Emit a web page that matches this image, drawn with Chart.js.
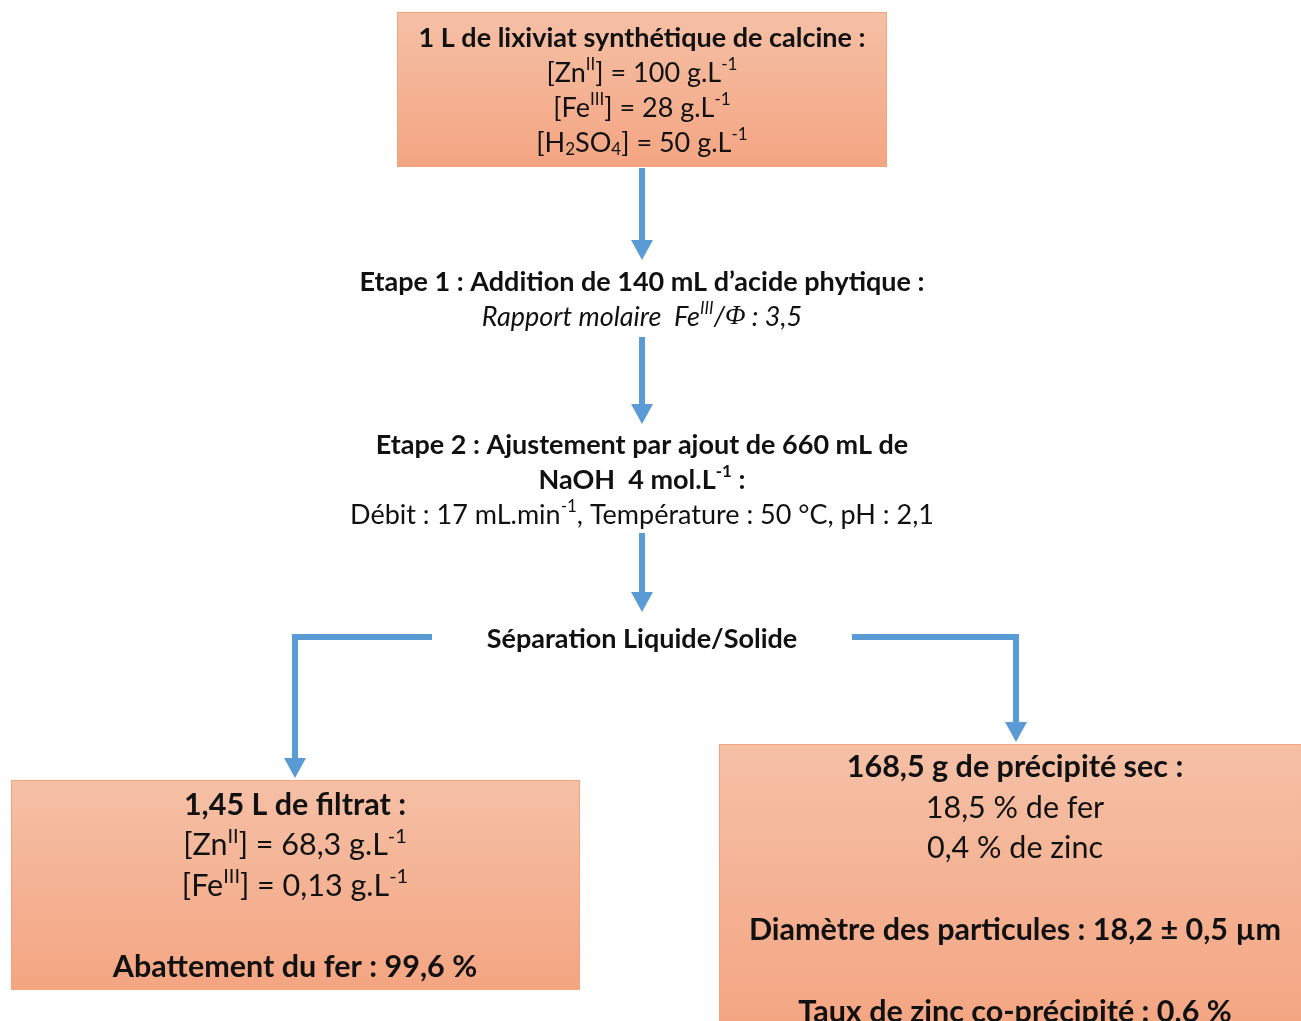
<!DOCTYPE html>
<html>
<head>
<meta charset="utf-8">
<script src="https://cdn.jsdelivr.net/npm/chart.js@4.4.1/dist/chart.umd.min.js"></script>
<style>
html, body { margin: 0; padding: 0; background: #ffffff; }
canvas { display: block; }
</style>
</head>
<body>
<canvas id="flow" width="1301" height="1021"></canvas>
<script>
// Textes du schéma (^{..} = exposant, _{..} = indice)
const sourceLines = [
    "1 L de lixiviat synthétique de calcine :",
    "[Zn^{II}] = 100 g.L^{-1}",
    "[Fe^{III}] = 28 g.L^{-1}",
    "[H_{2}SO_{4}] = 50 g.L^{-1}",
];
const step1Lines = [
    "Etape 1 : Addition de 140 mL d’acide phytique :",
    "Rapport molaire  Fe^{III}/Φ : 3,5",
];
const step2Lines = [
    "Etape 2 : Ajustement par ajout de 660 mL de",
    "NaOH  4 mol.L^{-1} :",
    "Débit : 17 mL.min^{-1}, Température : 50 °C, pH : 2,1",
];
const separationLines = ["Séparation Liquide/Solide"];
const filtrateLines = [
    "1,45 L de filtrat :",
    "[Zn^{II}] = 68,3 g.L^{-1}",
    "[Fe^{III}] = 0,13 g.L^{-1}",
    "",
    "Abattement du fer : 99,6 %",
];
const solidLines = [
    "168,5 g de précipité sec :",
    "18,5 % de fer",
    "0,4 % de zinc",
    "",
    "Diamètre des particules : 18,2 ± 0,5 µm",
    "",
    "Taux de zinc co-précipité : 0,6 %",
];

// Mise en page (coordonnées dans le repère des échelles)
const FONT = "Lato, 'Open Sans', sans-serif";
const SERIF = "'Liberation Serif', 'DejaVu Serif', serif";
const blocks = [
    { lines: sourceLines, box: [397, 12, 887, 167], cx: 642, y0: 38, dy: 35, size: 27, styles: ["b", "", "", ""] },
    { lines: step1Lines, cx: 642, y0: 282, dy: 35, size: 27, styles: ["b", "i"] },
    { lines: step2Lines, cx: 642, y0: 445, dy: 35, size: 27, styles: ["b", "b", ""] },
    { lines: separationLines, cx: 642, y0: 639, dy: 35, size: 27, styles: ["b"] },
    { lines: filtrateLines, box: [11, 780, 580, 990], cx: 295, y0: 805, dy: 40.5, size: 30.5, styles: ["b", "", "", "", "b"] },
    { lines: solidLines, box: [719, 744, 1310, 1030], cx: 1015, y0: 767, dy: 40.8, size: 30.5, styles: ["b", "", "", "", "b", "", "b"] },
];
const arrows = [
    [[642, 168], [642, 260]],
    [[642, 337], [642, 424]],
    [[642, 533], [642, 612]],
    [[432, 637], [295, 637], [295, 778]],
    [[852, 637], [1016, 637], [1016, 742]],
];
const ARROW_COLOR = "#5b9bd5";

function parseRich(text) {
    const parts = text.split(/(\^\{[^}]*\}|_\{[^}]*\}|Φ)/).filter(p => p.length);
    return parts.map(p => {
        if (p.startsWith("^{")) return { t: p.slice(2, -1), mode: "sup" };
        if (p.startsWith("_{")) return { t: p.slice(2, -1), mode: "sub" };
        if (p === "Φ") return { t: p, mode: "serif" };
        return { t: p, mode: "" };
    });
}

function fontFor(style, size, family) {
    const w = style.includes("b") ? "bold " : "";
    const it = style.includes("i") ? "italic " : "";
    return it + w + size + "px " + (family || FONT);
}

function segFont(s, style, size) {
    if (s.mode === "sup" || s.mode === "sub") return fontFor(style, Math.round(size * 0.64));
    if (s.mode === "serif") return fontFor(style, size, SERIF);
    return fontFor(style, size);
}

function drawRich(ctx, text, cx, cy, size, style) {
    const segs = parseRich(text);
    let total = 0;
    segs.forEach(s => {
        ctx.font = segFont(s, style, size);
        s.w = ctx.measureText(s.t).width;
        total += s.w;
    });
    let x = cx - total / 2;
    ctx.textBaseline = "middle";
    ctx.textAlign = "left";
    ctx.fillStyle = "#111111";
    segs.forEach(s => {
        ctx.font = segFont(s, style, size);
        let y = cy;
        if (s.mode === "sup") y = cy - size * 0.3;
        if (s.mode === "sub") y = cy + size * 0.24;
        ctx.fillText(s.t, x, y);
        x += s.w;
    });
}

const flowPlugin = {
    id: "flow",
    afterDraw(chart) {
        const ctx = chart.ctx;
        const sx = chart.scales.x, sy = chart.scales.y;
        const px = v => sx.getPixelForValue(v);
        const py = v => sy.getPixelForValue(v);
        ctx.save();

        // boîtes
        blocks.forEach(b => {
            if (!b.box) return;
            const [x0, y0, x1, y1] = b.box;
            const grad = ctx.createLinearGradient(0, py(y0), 0, py(y1));
            grad.addColorStop(0, "#f5c0a6");
            grad.addColorStop(1, "#f4a582");
            ctx.fillStyle = grad;
            ctx.fillRect(px(x0), py(y0), px(x1) - px(x0), py(y1) - py(y0));
            ctx.strokeStyle = "#f0a57f";
            ctx.lineWidth = 1;
            ctx.strokeRect(px(x0) + 0.5, py(y0) + 0.5, px(x1) - px(x0) - 1, py(y1) - py(y0) - 1);
        });

        // flèches
        arrows.forEach(path => {
            const pts = path.map(p => [px(p[0]), py(p[1])]);
            const tip = pts[pts.length - 1];
            const headLen = 20, headW = 11;
            ctx.strokeStyle = ARROW_COLOR;
            ctx.fillStyle = ARROW_COLOR;
            ctx.lineWidth = 6;
            ctx.lineJoin = "miter";
            ctx.beginPath();
            ctx.moveTo(pts[0][0], pts[0][1]);
            for (let i = 1; i < pts.length - 1; i++) ctx.lineTo(pts[i][0], pts[i][1]);
            ctx.lineTo(tip[0], tip[1] - headLen + 2);
            ctx.stroke();
            ctx.beginPath();
            ctx.moveTo(tip[0], tip[1]);
            ctx.lineTo(tip[0] - headW, tip[1] - headLen);
            ctx.lineTo(tip[0] + headW, tip[1] - headLen);
            ctx.closePath();
            ctx.fill();
        });

        // textes
        blocks.forEach(b => {
            b.lines.forEach((line, i) => {
                if (!line) return;
                drawRich(ctx, line, px(b.cx), py(b.y0 + i * b.dy), b.size, b.styles[i] || "");
            });
        });
        ctx.restore();
    }
};

new Chart(document.getElementById("flow"), {
    type: "scatter",
    data: { datasets: [{ data: [] }] },
    options: {
        responsive: false,
        animation: false,
        devicePixelRatio: 1,
        layout: { padding: 0 },
        plugins: { legend: { display: false }, tooltip: { enabled: false } },
        scales: {
            x: { type: "linear", min: 0, max: 1301, display: false },
            y: { type: "linear", min: 0, max: 1021, reverse: true, display: false },
        },
    },
    plugins: [flowPlugin],
});
</script>
</body>
</html>
